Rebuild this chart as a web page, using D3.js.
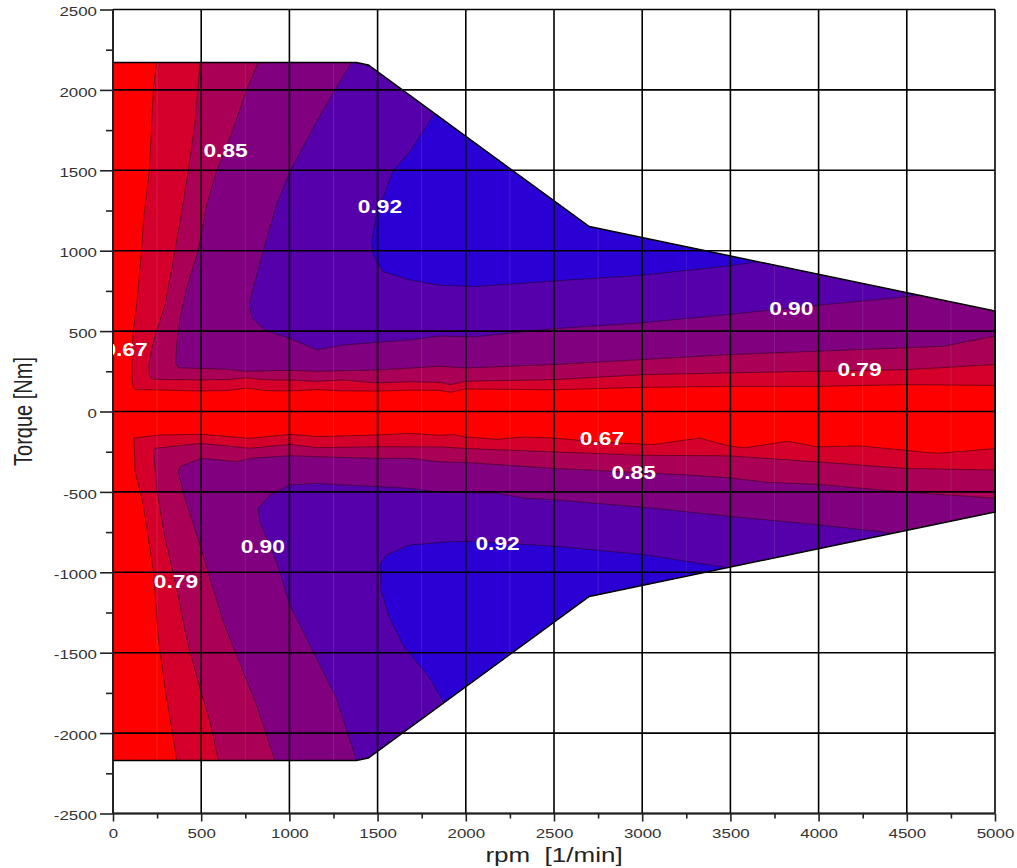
<!DOCTYPE html>
<html><head><meta charset="utf-8">
<script src="https://cdn.jsdelivr.net/npm/d3@7"></script>
<style>body{margin:0;background:#fff;} svg{display:block;}</style>
</head><body>
<svg id="chart" width="1017" height="868"></svg>
<script>
// ---------- data ----------
const rpmTicks = [0,500,1000,1500,2000,2500,3000,3500,4000,4500,5000];
const rpmMinorTicks = [250,750,1250,1750,2250,2750,3250,3750,4250,4750];
const torqueTicks = [-2500,-2000,-1500,-1000,-500,0,500,1000,1500,2000,2500];
const torqueMinorTicks = [-2250,-1750,-1250,-750,-250,250,750,1250,1750,2250];

const levels = [0.67, 0.79, 0.85, 0.90, 0.92];

// operating envelope (upper half; lower half is its mirror)
const envelopeRpm    = [0, 1380, 1447, 2700, 5000];
const envelopeTorque = [2170, 2170, 2155, 1150, 625];

const upper067 = [[247,2170],[229,2010],[206,1496],[172,1180],[162,998],[134,662],[115,501],[106,351],[108,200],[115,150],[130,136],[266,134],[502,127],[650,130],[757,146],[860,130],[1005,127],[1154,136],[1300,128],[1494,127],[1700,133],[1853,131],[1913,119],[2000,140],[2500,135],[3000,150],[3493,156],[3992,156],[4493,167],[5000,162]];
const upper079 = [[493,2170],[465,1802],[427,1496],[380,1180],[351,998],[295,662],[247,501],[219,393],[203,290],[206,225],[225,200],[502,196],[650,198],[757,210],[860,197],[1005,196],[1154,187],[1305,196],[1494,177],[1683,185],[1853,181],[1913,167],[2000,188],[2500,198],[3000,229],[3493,240],[3992,250],[4493,260],[5000,292]];
const upper085 = [[823,2170],[757,1999],[663,1699],[587,1496],[531,1284],[483,998],[417,766],[380,579],[361,413],[355,300],[370,272],[502,268],[650,262],[757,250],[1005,256],[1154,250],[1494,258],[1853,281],[2000,271],[2500,292],[3000,323],[3493,354],[3992,375],[4493,396],[4710,406],[5000,469]];
const upper090 = [[1352,2170],[1286,2051],[1154,1802],[1005,1496],[927,1284],[852,998],[795,766],[772,660],[790,580],[870,500],[1005,455],[1154,384],[1305,413],[1494,430],[1683,445],[1853,469],[2054,465],[2500,515],[3000,552],[3493,604],[3992,660],[4493,713],[4700,740]];
const upper092 = [[1880,1950],[1815,1840],[1683,1616],[1588,1496],[1494,1222],[1466,1056],[1475,973],[1532,869],[1683,818],[1853,785],[2054,777],[2500,812],[3000,848],[3493,906],[3650,930],[3900,968]];

const lower067 = [[361,-2170],[342,-2033],[295,-1722],[257,-1411],[229,-996],[172,-581],[125,-374],[119,-165],[266,-146],[502,-142],[776,-167],[1005,-142],[1154,-156],[1494,-146],[1683,-136],[1853,-148],[1933,-144],[2000,-158],[2175,-173],[2336,-158],[2500,-165],[2737,-189],[3060,-206],[3322,-165],[3493,-214],[3584,-226],[3825,-185],[3992,-220],[4227,-214],[4493,-241],[4670,-261],[5000,-230]];
const lower079 = [[597,-2170],[550,-1929],[493,-1722],[417,-1411],[361,-1100],[295,-789],[247,-478],[229,-239],[238,-229],[502,-198],[776,-229],[1005,-204],[1154,-225],[1494,-219],[1853,-220],[2000,-230],[2500,-251],[3000,-272],[3493,-276],[3992,-313],[4493,-354],[5000,-364]];
const lower085 = [[918,-2170],[814,-1825],[738,-1618],[625,-1307],[493,-830],[408,-540],[370,-374],[380,-343],[502,-291],[700,-312],[776,-291],[1005,-275],[1154,-281],[1494,-291],[1683,-291],[1853,-313],[2000,-317],[2500,-354],[3000,-381],[3268,-395],[3493,-412],[3704,-440],[3992,-453],[4493,-502],[5000,-539]];
const lower090 = [[1380,-2170],[1267,-1784],[1116,-1452],[1003,-1203],[927,-934],[833,-685],[823,-602],[890,-519],[1005,-457],[1154,-447],[1305,-457],[1494,-467],[1683,-478],[1853,-502],[2175,-508],[2336,-539],[2500,-549],[3060,-601],[3493,-652],[3992,-704],[4330,-745],[4500,-770]];
const lower092 = [[1910,-1880],[1872,-1805],[1796,-1659],[1645,-1452],[1569,-1286],[1522,-1120],[1513,-955],[1550,-892],[1683,-830],[1909,-810],[2054,-807],[2336,-827],[2500,-838],[3000,-889],[3450,-966],[3600,-1010]];

const upperLines = [upper067, upper079, upper085, upper090, upper092];
const lowerLines = [lower067, lower079, lower085, lower090, lower092];

const labelText   = ["0.85","0.92","0.67","0.90","0.79","0.67","0.85","0.92","0.90","0.79"];
const labelRpm    = [638, 1513, 71, 3845, 4232, 2772, 2952, 2180, 849, 357];
const labelTorque = [1620, 1274, 382, 639, 258, -170, -378, -821, -840, -1057];

// ---------- styles ----------
const bandColors = ["#ff0000","#d4002b","#aa0055","#800080","#5500aa","#2b00d4"];

// ---------- drawing ----------
const svg = d3.select("#chart");
const x = d3.scaleLinear().domain([0,5000]).range([113,995]);
const y = d3.scaleLinear().domain([-2500,2500]).range([813.5,9.5]);
const line = d3.line().x(d => x(d[0])).y(d => y(d[1]));

const envUpper = envelopeRpm.map((r,i) => [r, envelopeTorque[i]]);
const envLower = envelopeRpm.map((r,i) => [r, -envelopeTorque[i]]).reverse();
const envelope = envUpper.concat(envLower);

const defs = svg.append("defs");
defs.append("clipPath").attr("id","envClip").append("path").attr("d", line(envelope) + "Z");
defs.append("clipPath").attr("id","plotClip").append("rect")
  .attr("x", x(0)).attr("y", y(2500)).attr("width", x(5000)-x(0)).attr("height", y(-2500)-y(2500));

const map = svg.append("g").attr("clip-path","url(#envClip)");
map.append("path").attr("d", line(envelope) + "Z").attr("fill", bandColors[0]);

levels.forEach((lv, i) => {
  const up = upperLines[i], lo = lowerLines[i];
  const upPoly = up.concat([[5400, up[up.length-1][1]],[5400,3200],[up[0][0],3200]]);
  const loPoly = lo.concat([[5400, lo[lo.length-1][1]],[5400,-3200],[lo[0][0],-3200]]);
  map.append("path").attr("d", line(upPoly)+"Z").attr("fill", bandColors[i+1]);
  map.append("path").attr("d", line(loPoly)+"Z").attr("fill", bandColors[i+1]);
});
levels.forEach((lv, i) => {
  [upperLines[i], lowerLines[i]].forEach(l => {
    map.append("path").attr("d", line(l)).attr("fill","none")
      .attr("stroke","#1a0010").attr("stroke-opacity",0.55).attr("stroke-width",0.9);
  });
});
// faint secondary grid inside the map
map.selectAll("line.fv").data(rpmMinorTicks).join("line")
  .attr("x1", d => x(d)).attr("x2", d => x(d)).attr("y1", y(2500)).attr("y2", y(-2500))
  .attr("stroke","#ffffff").attr("stroke-opacity",0.1).attr("stroke-width",1);

// envelope outline
svg.append("path").attr("d", line(envelope) + "Z").attr("fill","none")
  .attr("stroke","#000").attr("stroke-width",1.5).attr("stroke-linejoin","round");

// grid
const grid = svg.append("g");
grid.selectAll("line.v").data(rpmTicks).join("line")
  .attr("x1", d => x(d)).attr("x2", d => x(d)).attr("y1", y(2500)).attr("y2", y(-2500))
  .attr("stroke","#000").attr("stroke-width",1.6);
grid.selectAll("line.h").data(torqueTicks).join("line")
  .attr("x1", x(0)).attr("x2", x(5000)).attr("y1", d => y(d)).attr("y2", d => y(d))
  .attr("stroke","#000").attr("stroke-width",1.6);

// axes
const fmt = d => String(d);
const sx = 1.3;
const yAxis = svg.append("g").attr("transform", `translate(${x(0)},0)`)
  .call(d3.axisLeft(y).tickValues(torqueTicks).tickSize(13).tickFormat(fmt));
yAxis.select(".domain").remove();
yAxis.selectAll("line").attr("stroke","#222").attr("stroke-width",1.6);
yAxis.selectAll("text").attr("x", -16/sx).attr("dy","0.48em").attr("transform",`scale(${sx},1)`)
  .attr("fill","#333").style("font-family","'Liberation Sans', Arial, sans-serif").style("font-size","13px");

const yMinor = svg.append("g").attr("transform", `translate(${x(0)},0)`)
  .call(d3.axisLeft(y).tickValues(torqueMinorTicks).tickSize(7).tickFormat(""));
yMinor.select(".domain").remove();
yMinor.selectAll("line").attr("stroke","#222").attr("stroke-width",1.6);

const xAxis = svg.append("g").attr("transform", `translate(0,${y(-2500)})`)
  .call(d3.axisBottom(x).tickValues(rpmTicks).tickSize(8).tickFormat(fmt));
xAxis.select(".domain").remove();
xAxis.selectAll("line").attr("stroke","#222").attr("stroke-width",1.6);
xAxis.selectAll("text").attr("y", 24.5).attr("dy", null).attr("transform",`scale(${sx},1)`)
  .attr("fill","#333").style("font-family","'Liberation Sans', Arial, sans-serif").style("font-size","13px");

const xMinor = svg.append("g").attr("transform", `translate(0,${y(-2500)})`)
  .call(d3.axisBottom(x).tickValues(rpmMinorTicks).tickSize(5).tickFormat(""));
xMinor.select(".domain").remove();
xMinor.selectAll("line").attr("stroke","#222").attr("stroke-width",1.6);

// axis lines
svg.append("line").attr("x1", x(0)).attr("x2", x(0)).attr("y1", y(2500)).attr("y2", y(-2500))
  .attr("stroke","#222").attr("stroke-width",1.8);
svg.append("line").attr("x1", x(0)).attr("x2", x(5000)).attr("y1", y(-2500)).attr("y2", y(-2500))
  .attr("stroke","#222").attr("stroke-width",1.8);

// axis titles
svg.append("text").attr("transform", `translate(554,861.5) scale(${sx},1)`)
  .attr("text-anchor","middle").attr("fill","#222")
  .style("font-family","'Liberation Sans', Arial, sans-serif").style("font-size","20px")
  .attr("xml:space","preserve").text("rpm  [1/min]");
svg.append("text").attr("transform", `translate(32,411.5) scale(${sx},1) rotate(-90)`)
  .attr("text-anchor","middle").attr("fill","#222")
  .style("font-family","'Liberation Sans', Arial, sans-serif").style("font-size","20px")
  .text("Torque [Nm]");

// contour labels
const lab = svg.append("g").attr("clip-path","url(#plotClip)");
lab.selectAll("text").data(labelText).join("text")
  .attr("transform", (d,i) => `translate(${x(labelRpm[i])},${y(labelTorque[i])}) scale(${sx},1)`)
  .attr("text-anchor","middle").attr("dy","0.36em")
  .attr("fill","#fff").style("font-family","'Liberation Sans', Arial, sans-serif")
  .style("font-weight","bold").style("font-size","17.5px")
  .text(d => d);
</script>
</body></html>
